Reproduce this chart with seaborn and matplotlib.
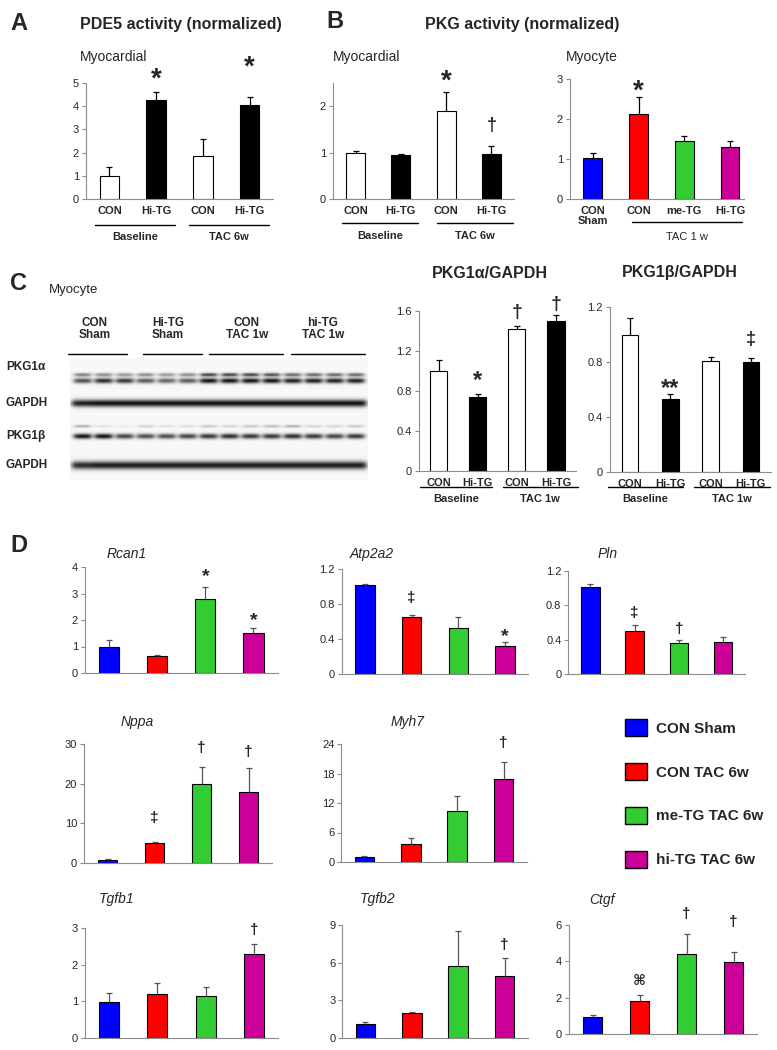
import numpy as np
import pandas as pd
import matplotlib
matplotlib.use("Agg")
import matplotlib.pyplot as plt
from matplotlib.patches import Patch
import seaborn as sns

# ---- values ----
# A: PDE5 activity, myocardial
a_keys = ["CON base", "Hi-TG base", "CON TAC", "Hi-TG TAC"]
a_ticks = ["CON", "Hi-TG", "CON", "Hi-TG"]
a_vals = [1.0, 4.25, 1.85, 4.05]
a_errs = [0.4, 0.35, 0.75, 0.35]

# B: PKG activity, myocardial and myocyte
bl_vals = [1.0, 0.94, 1.9, 0.97]
bl_errs = [0.03, 0.02, 0.4, 0.17]
br_keys = ["CON Sham", "CON", "me-TG", "Hi-TG"]
br_ticks = ["CON\nSham", "CON", "me-TG", "Hi-TG"]
br_vals = [1.02, 2.12, 1.45, 1.31]
br_errs = [0.12, 0.43, 0.12, 0.13]

# C: western blot quantification
c_alpha_vals = [1.0, 0.74, 1.42, 1.5]
c_alpha_errs = [0.11, 0.03, 0.03, 0.06]
c_beta_vals = [1.0, 0.53, 0.81, 0.80]
c_beta_errs = [0.12, 0.04, 0.03, 0.03]

# blot band darkness per lane (14 lanes)
blot_pkg1a_up = [0.5, 0.45, 0.4, 0.45, 0.4, 0.45, 0.75, 0.75, 0.75, 0.7, 0.6, 0.6, 0.6, 0.6]
blot_pkg1a = [0.7, 0.85, 0.8, 0.65, 0.6, 0.65, 0.95, 0.95, 0.95, 0.95, 0.9, 0.9, 0.9, 0.9]
blot_gapdh1 = [0.9, 0.95, 0.95, 0.95, 0.95, 0.95, 0.95, 0.95, 0.95, 0.95, 0.95, 0.95, 0.95, 0.95]
blot_pkg1b_up = [0.3, 0.1, 0.05, 0.15, 0.1, 0.1, 0.2, 0.15, 0.2, 0.25, 0.3, 0.15, 0.15, 0.2]
blot_pkg1b = [0.95, 0.95, 0.75, 0.7, 0.72, 0.75, 0.8, 0.85, 0.8, 0.8, 0.85, 0.8, 0.75, 0.8]
blot_gapdh2 = [0.85, 0.9, 0.9, 0.9, 0.9, 0.9, 0.9, 0.9, 0.9, 0.9, 0.9, 0.9, 0.9, 0.9]

# D: gene expression
d_groups = ["CON Sham", "CON TAC 6w", "me-TG TAC 6w", "hi-TG TAC 6w"]
d_colors = ["#0000ff", "#ff0000", "#33cc33", "#cc0099"]
rcan1 = [1.0, 0.65, 2.78, 1.5]
rcan1_err = [0.24, 0.02, 0.47, 0.2]
atp2a2 = [1.02, 0.65, 0.53, 0.32]
atp2a2_err = [0.01, 0.02, 0.12, 0.05]
pln = [1.01, 0.5, 0.36, 0.37]
pln_err = [0.04, 0.07, 0.04, 0.06]
nppa = [0.8, 5.0, 19.8, 18.0]
nppa_err = [0.25, 0.2, 4.5, 6.0]
myh7 = [1.0, 3.7, 10.4, 16.9]
myh7_err = [0.3, 1.2, 3.0, 3.4]
tgfb1 = [0.98, 1.2, 1.15, 2.3]
tgfb1_err = [0.24, 0.3, 0.24, 0.27]
tgfb2 = [1.1, 2.0, 5.75, 4.95]
tgfb2_err = [0.15, 0.08, 2.8, 1.45]
ctgf = [0.95, 1.8, 4.4, 3.97]
ctgf_err = [0.1, 0.35, 1.1, 0.55]

WB = ["white", "black", "white", "black"]

# ---- figure setup ----
sns.set_theme(style="white")
plt.rcParams["font.family"] = ["Liberation Sans", "DejaVu Sans"]
W, H = 777, 1050
fig = plt.figure(figsize=(W / 100, H / 100), dpi=100)
fig.patch.set_facecolor("white")
AX_GRAY = "#8c8c8c"


def add_ax(x0, x1, ytop, ybot):
    return fig.add_axes([x0 / W, 1 - ybot / H, (x1 - x0) / W, (ybot - ytop) / H])


def ftext(x, y, s, **kw):
    kw.setdefault("va", "center")
    fig.text(x / W, 1 - y / H, s, **kw)


def bars(rect, keys, vals, errs, colors, ymax, yticks, ticklabels=None,
         width=0.42, ecol="black", xlim=None):
    ax = add_ax(*rect)
    n = len(vals)
    df = pd.DataFrame({"g": keys, "v": vals})
    sns.barplot(data=df, x="g", y="v", hue="g", order=keys, hue_order=keys,
                palette=colors, saturation=1, dodge=False, legend=False, width=width,
                edgecolor="black", linewidth=0.8, errorbar=None, ax=ax)
    _, caps, _ = ax.errorbar(range(n), vals, yerr=[np.zeros(n), errs], fmt="none",
                             ecolor=ecol, elinewidth=0.9, capsize=2.5,
                             capthick=0.9, zorder=3)
    caps[0].set_visible(False)
    ax.set_xlim(*(xlim or (-0.5, n - 0.5)))
    ax.set_ylim(0, ymax)
    ax.set_xlabel("")
    ax.set_ylabel("")
    ax.set_yticks(yticks)
    ax.set_yticklabels([f"{t:g}" for t in yticks])
    for s in ["top", "right"]:
        ax.spines[s].set_visible(False)
    for s in ["left", "bottom"]:
        ax.spines[s].set_color(AX_GRAY)
        ax.spines[s].set_linewidth(0.8)
    ax.tick_params(axis="y", length=3, width=0.8, color=AX_GRAY, labelsize=8,
                   pad=2, left=True)
    if ticklabels is None:
        ax.set_xticks([])
    else:
        ax.set_xticks(range(n))
        ax.set_xticklabels(ticklabels, fontweight="bold", fontsize=8, linespacing=1.0)
        ax.tick_params(axis="x", length=0, pad=5)
    ax.set_facecolor("none")
    ax._rect = rect
    return ax


SYM_BASE = {"*": 0.46, "**": 0.46, "†": 0.30, "‡": 0.30, "⌘": 0.36}


def mark(ax, i, top, sym, off_px, size, weight="bold"):
    dy = off_px * 0.72 - SYM_BASE[sym] * size
    ax.annotate(sym, xy=(i, top), xytext=(0, dy), textcoords="offset points",
                ha="center", va="baseline", fontsize=size, fontweight=weight,
                annotation_clip=False)


def marks(ax, vals, errs, items):
    for i, sym, off, size in items:
        mark(ax, i, vals[i] + errs[i], sym, off, size)


def group(ax, x0, x1, line_y, label, label_y, weight="bold"):
    _, _, ytop, ybot = ax._rect
    tr = ax.get_xaxis_transform()
    fy = (ybot - line_y) / (ybot - ytop)
    fl = (ybot - label_y) / (ybot - ytop)
    ax.plot([x0, x1], [fy, fy], transform=tr, clip_on=False, color="black", lw=1.0)
    ax.text((x0 + x1) / 2, fl, label, transform=tr, ha="center", va="center",
            fontsize=8, fontweight=weight)


# ---- panel A ----
ftext(10, 23, "A", fontsize=17, fontweight="bold")
ftext(80, 25, "PDE5 activity (normalized)", fontsize=11.5, fontweight="bold")
ftext(80, 57, "Myocardial", fontsize=10)
ax = bars((86, 273, 83, 199), a_keys, a_vals, a_errs, WB, 5, [0, 1, 2, 3, 4, 5], a_ticks)
marks(ax, a_vals, a_errs, [(1, "*", 18, 20), (3, "*", 35, 20)])
group(ax, -0.3, 1.4, 225, "Baseline", 237)
group(ax, 1.7, 3.42, 225, "TAC 6w", 237)

# ---- panel B ----
ftext(326, 21, "B", fontsize=17, fontweight="bold")
ftext(425, 25, "PKG activity (normalized)", fontsize=11.5, fontweight="bold")
ftext(333, 57, "Myocardial", fontsize=10)
ax = bars((333, 514, 83, 199), a_keys, bl_vals, bl_errs, WB, 2.5, [0, 1, 2], a_ticks)
marks(ax, bl_vals, bl_errs, [(2, "*", 16, 20), (3, "†", 22, 13)])
group(ax, -0.3, 1.38, 223, "Baseline", 236)
group(ax, 1.8, 3.47, 223, "TAC 6w", 236)

ftext(566, 57, "Myocyte", fontsize=10)
ax = bars((570, 743.7, 79, 199), br_keys, br_vals, br_errs, d_colors, 3, [0, 1, 2, 3],
          br_ticks, width=0.41, xlim=(-0.5, 3.3))
marks(ax, br_vals, br_errs, [(1, "*", 11, 20)])
group(ax, 0.85, 3.26, 222, "TAC 1 w", 237, weight="normal")

# ---- panel C ----
ftext(10, 283, "C", fontsize=17, fontweight="bold")
ftext(49, 290, "Myocyte", fontsize=9.5)

blot = add_ax(70, 368, 358, 480)
yy, xx = np.mgrid[358:480:0.5, 70:368:0.5]
dark = np.zeros_like(xx)
lane_x = 82.5 + 21 * np.arange(14)
rows = [(blot_pkg1a_up, 374.5, 1.8, 8), (blot_pkg1a, 380.5, 2.6, 8.5),
        (blot_gapdh1, 403, 3.6, 10.5), (blot_pkg1b_up, 426, 1.4, 8),
        (blot_pkg1b, 436, 2.6, 8.5), (blot_gapdh2, 465, 4.0, 10.5)]
for levels, yc, sy, hw in rows:
    for xc, lev in zip(lane_x, levels):
        prof_x = 1 / (1 + np.exp((np.abs(xx - xc) - hw) / 1.5))
        dark += lev * prof_x * np.exp(-((yy - yc) / sy) ** 2)
img = 0.97 - 0.95 * np.clip(dark, 0, 1)
blot.imshow(img, cmap="gray", vmin=0, vmax=1, extent=[70, 368, 480, 358], aspect="auto")
blot.axis("off")

for x, s in [(95, "CON\nSham"), (168, "Hi-TG\nSham"), (247, "CON\nTAC 1w"), (323, "hi-TG\nTAC 1w")]:
    ftext(x, 329, s, ha="center", fontsize=8.5, fontweight="bold", linespacing=1.05)
for x0, x1 in [(68, 127), (143, 202), (209, 283), (291, 365)]:
    fig.add_artist(plt.Line2D([x0 / W, x1 / W], [1 - 354 / H, 1 - 354 / H], color="black", lw=1))
for y, s in [(367, "PKG1α"), (403, "GAPDH"), (436, "PKG1β"), (465, "GAPDH")]:
    ftext(6, y, s, fontsize=8.5, fontweight="bold")

ftext(490, 273, "PKG1α/GAPDH", ha="center", fontsize=11.5, fontweight="bold")
ax = bars((419, 575.6, 311, 471), a_keys, c_alpha_vals, c_alpha_errs, WB, 1.6,
          [0, 0.4, 0.8, 1.2, 1.6], a_ticks, width=0.44)
marks(ax, c_alpha_vals, c_alpha_errs, [(1, "*", 18, 17), (2, "†", 15, 14), (3, "†", 12, 14)])
group(ax, -0.47, 1.36, 487, "Baseline", 499)
group(ax, 1.64, 3.55, 487, "TAC 1w", 499)

ftext(680, 273, "PKG1β/GAPDH", ha="center", fontsize=11.5, fontweight="bold")
ax = bars((610, 771, 307, 472), a_keys, c_beta_vals, c_beta_errs, WB, 1.2,
          [0, 0.4, 0.8, 1.2], a_ticks, width=0.41)
marks(ax, c_beta_vals, c_beta_errs, [(1, "**", 9, 17), (3, "‡", 19, 13)])
group(ax, -0.55, 1.31, 487, "Baseline", 499)
group(ax, 1.59, 3.47, 487, "TAC 1w", 499)

# ---- panel D ----
ftext(10, 546, "D", fontsize=17, fontweight="bold")
GE = "#555555"
panels = [
    ("Rcan1", (127, 554), (85, 277.5, 567, 673), rcan1, rcan1_err, 4, [0, 1, 2, 3, 4],
     [(2, "*", 15, 14), (3, "*", 12, 14)]),
    ("Atp2a2", (372, 554), (341.7, 528.3, 569, 674), atp2a2, atp2a2_err, 1.2,
     [0, 0.4, 0.8, 1.2], [(1, "‡", 18, 11), (3, "*", 9, 14)]),
    ("Pln", (608, 554), (568.4, 745, 571, 674), pln, pln_err, 1.2,
     [0, 0.4, 0.8, 1.2], [(1, "‡", 13, 11), (2, "†", 11, 11)]),
    ("Nppa", (137, 722), (84, 272, 744, 863), nppa, nppa_err, 30, [0, 10, 20, 30],
     [(1, "‡", 25, 11), (2, "†", 19, 11), (3, "†", 16, 11)]),
    ("Myh7", (408, 722), (341.3, 526.7, 744, 862), myh7, myh7_err, 24,
     [0, 6, 12, 18, 24], [(3, "†", 20, 11)]),
    ("Tgfb1", (117, 899), (84.8, 278.2, 928, 1038), tgfb1, tgfb1_err, 3, [0, 1, 2, 3],
     [(3, "†", 14, 11)]),
    ("Tgfb2", (378, 899), (342.3, 527.7, 925, 1038), tgfb2, tgfb2_err, 9, [0, 3, 6, 9],
     [(3, "†", 13, 11)]),
    ("Ctgf", (602, 900), (569, 757, 925, 1034), ctgf, ctgf_err, 6, [0, 2, 4, 6],
     [(1, "⌘", 15, 10), (2, "†", 21, 11), (3, "†", 30, 11)]),
]
for name, (tx, ty), rect, vals, errs, ymax, yt, ann in panels:
    ftext(tx, ty, name, ha="center", fontsize=10, fontstyle="italic")
    ax = bars(rect, d_groups, vals, errs, d_colors, ymax, yt, ecol=GE)
    marks(ax, vals, errs, ann)

handles = [Patch(facecolor=c, edgecolor="black", linewidth=1) for c in d_colors]
fig.legend(handles, d_groups, loc="upper left", bbox_to_anchor=(625 / W, 1 - 719 / H),
           frameon=False, prop={"weight": "bold", "size": 11}, labelspacing=1.75,
           handlelength=1.45, handleheight=1.35, handletextpad=0.55,
           borderpad=0, borderaxespad=0)

fig.savefig("out.png", dpi=100, facecolor="white")
